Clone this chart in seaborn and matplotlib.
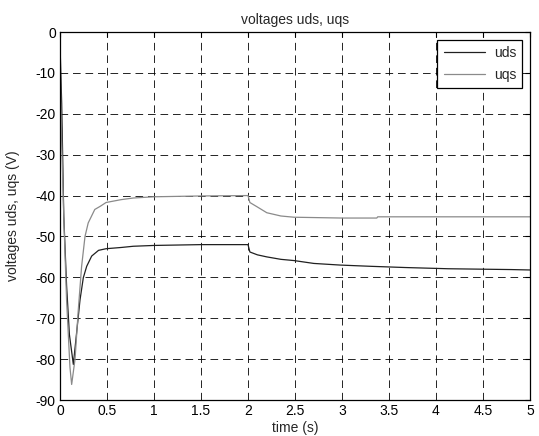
import matplotlib
matplotlib.use("Agg")
import matplotlib.pyplot as plt
import numpy as np
import pandas as pd
import seaborn as sns

# values
t_uds = [0.0, 0.018, 0.04, 0.07, 0.1, 0.142, 0.177, 0.213, 0.248, 0.284, 0.337,
         0.41, 0.49, 0.65, 0.78, 1.0, 1.5, 2.0, 2.02, 2.1, 2.2, 2.35, 2.49, 2.7,
         2.98, 3.3, 3.67, 4.13, 4.8, 5.0]
v_uds = [-3.0, -17.5, -45.0, -62.0, -74.0, -81.3, -73.5, -65.5, -60.1, -57.3, -54.8,
         -53.4, -53.0, -52.7, -52.4, -52.2, -52.0, -52.0, -53.8, -54.5, -55.0, -55.6,
         -55.9, -56.6, -57.0, -57.3, -57.6, -57.9, -58.1, -58.2]

t_uqs = [0.0, 0.01, 0.04, 0.07, 0.106, 0.124, 0.16, 0.195, 0.23, 0.266, 0.30,
         0.37, 0.43, 0.49, 0.65, 0.78, 1.0, 1.5, 2.0, 2.02, 2.1, 2.2, 2.35, 2.49,
         3.0, 3.37, 3.38, 5.0]
v_uqs = [-5.0, -20.0, -45.0, -65.6, -82.0, -86.2, -80.0, -67.8, -57.3, -50.0, -46.7,
         -43.4, -42.6, -41.7, -41.0, -40.6, -40.3, -40.1, -40.0, -41.7, -42.8, -44.2,
         -45.0, -45.3, -45.5, -45.5, -45.2, -45.2]

series_names = ["uds", "uqs"]
series_colors = ["#202020", "#8a8a8a"]
x_ticks = [0, 0.5, 1, 1.5, 2, 2.5, 3, 3.5, 4, 4.5, 5]
x_tick_labels = ["0", "0.5", "1", "1.5", "2", "2.5", "3", "3.5", "4", "4.5", "5"]
y_ticks = [-90, -80, -70, -60, -50, -40, -30, -20, -10, 0]

df = pd.concat([
    pd.DataFrame({"time": t_uds, "voltage": v_uds, "signal": "uds"}),
    pd.DataFrame({"time": t_uqs, "voltage": v_uqs, "signal": "uqs"}),
], ignore_index=True)

sns.set_style("white")
plt.rcParams["font.family"] = ["Liberation Sans", "DejaVu Sans"]
plt.rcParams["lines.scale_dashes"] = False
plt.rcParams["axes.unicode_minus"] = False
plt.rcParams["font.size"] = 10

fig, ax = plt.subplots(figsize=(5.39, 4.36), dpi=100)
fig.subplots_adjust(left=60 / 539, right=530 / 539, top=1 - 32 / 436, bottom=1 - 400 / 436)

sns.lineplot(data=df, x="time", y="voltage", hue="signal", hue_order=series_names,
             palette=series_colors, estimator=None, sort=False, linewidth=0.9, ax=ax)

ax.set_xlim(0, 5)
ax.set_ylim(-90, 0)
ax.set_xticks(x_ticks)
ax.set_xticklabels(x_tick_labels)
ax.set_yticks(y_ticks)
ax.grid(True, color="black", linestyle=(0, (5.5, 3.5)), linewidth=0.6)
ax.tick_params(axis="both", direction="in", length=3.5, width=0.8, top=True, right=True,
               labelsize=10, colors="black", pad=3)
for sp in ax.spines.values():
    sp.set_color("black")
    sp.set_linewidth(0.9)

ax.set_title("voltages uds, uqs", fontsize=10, pad=6)
ax.set_xlabel("time (s)", fontsize=10, labelpad=2)
ax.set_ylabel("voltages uds, uqs (V)", fontsize=10, labelpad=11)

leg = ax.legend(loc="upper right", fancybox=False, framealpha=1, edgecolor="black",
                fontsize=10, handlelength=3.0, borderaxespad=0.55, labelspacing=0.55,
                borderpad=0.45, handletextpad=0.6)
leg.get_frame().set_linewidth(0.9)

fig.savefig("out.png", dpi=100)
